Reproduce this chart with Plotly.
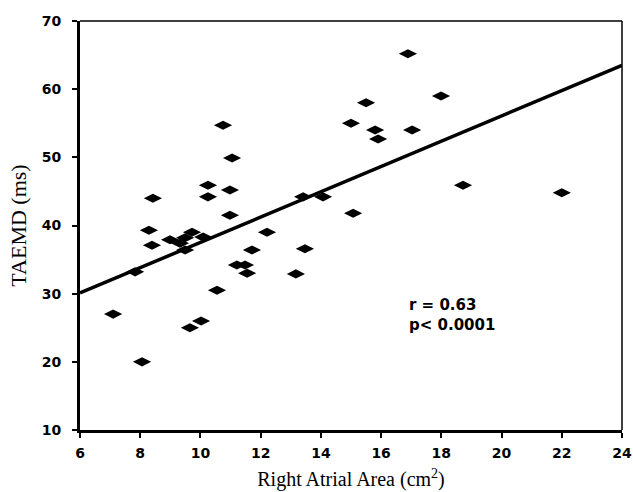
import plotly.graph_objects as go

# right atrial area (cm2) vs TAEMD (ms)
ra_area = [7.10, 8.06, 7.83, 8.29, 8.39, 8.42, 8.99, 9.32, 9.49, 9.49,
           9.72, 10.09, 10.25, 10.25, 11.05, 10.98, 10.98, 12.21, 11.71, 11.21,
           11.48, 11.55, 10.55, 9.65, 10.02, 10.75, 15.5, 15.0, 15.8, 15.9,
           17.03, 17.99, 18.72, 13.41, 14.07, 15.07, 13.47, 13.17, 16.89, 22.0]
taemd = [27.0, 20.0, 33.2, 39.3, 37.1, 44.0, 37.9, 37.4, 38.2, 36.4,
         39.0, 38.3, 45.9, 44.2, 49.9, 45.2, 41.5, 39.0, 36.4, 34.2,
         34.2, 33.0, 30.5, 25.0, 26.0, 54.7, 58.0, 55.0, 54.0, 52.7,
         54.0, 59.0, 45.9, 44.2, 44.2, 41.8, 36.6, 32.9, 65.2, 44.8]

fit_x = [6, 24]
fit_y = [30.1, 63.5]

fig = go.Figure()
fig.add_trace(go.Scatter(x=fit_x, y=fit_y, mode='lines', line=dict(color='black', width=3.5)))
fig.add_trace(go.Scatter(x=ra_area, y=taemd, mode='markers',
                         marker=dict(symbol='diamond-wide', size=13, color='black', line=dict(width=0))))

tickfont = dict(family='DejaVu Sans', size=14, color='black', weight='bold')
serif = 'Liberation Serif, Times New Roman'
fig.update_layout(
    width=633, height=492, showlegend=False,
    plot_bgcolor='white', paper_bgcolor='white',
    margin=dict(l=80, r=11, t=21, b=62),
    xaxis=dict(range=[6, 24], tickvals=list(range(6, 25, 2)), showgrid=False, zeroline=False,
               automargin=False,
               showline=True, linecolor='black', linewidth=3, ticks='outside', ticklen=5, tickwidth=2,
               tickcolor='black', tickfont=tickfont, ticklabelstandoff=3,
               title=dict(text='Right Atrial Area (cm<sup>2</sup>)', standoff=13,
                          font=dict(family=serif, size=20, color='black'))),
    yaxis=dict(range=[10, 70], tickvals=list(range(10, 71, 10)), showgrid=False, zeroline=False,
               automargin=False,
               showline=True, linecolor='black', linewidth=3, ticks='outside', ticklen=5, tickwidth=2,
               tickcolor='black', tickfont=tickfont, ticklabelstandoff=8,
               title=dict(text='TAEMD (ms)', standoff=10,
                          font=dict(family=serif, size=22, color='black'))),
)
# thin frame on top and right
fig.add_shape(type='line', xref='paper', yref='paper', x0=0, x1=1, y0=1, y1=1, line=dict(color='black', width=1.5))
fig.add_shape(type='line', xref='paper', yref='paper', x0=1, x1=1, y0=0, y1=1, line=dict(color='black', width=1.5))

fig.add_annotation(x=16.85, y=26.8, xanchor='left', yanchor='middle', showarrow=False, align='left',
                   text='r = 0.63<br>p< 0.0001',
                   font=dict(family='DejaVu Sans', size=15, color='black', weight='bold'))

# drop the default page margin so the figure fills the window exactly
fig.write_html("out.html", config={'displayModeBar': False},
               post_script="document.body.style.margin='0';")
